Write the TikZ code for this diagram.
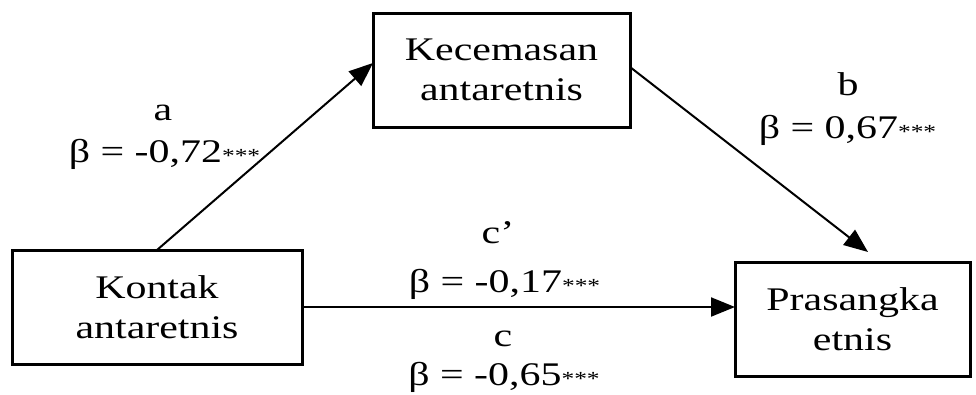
\documentclass[tikz,border=0pt]{standalone}
\usepackage{fontspec}
\setmainfont{Liberation Serif}[FakeStretch=1.27]
\usetikzlibrary{arrows.meta}
\newcommand\mystars{{\fontsize{20}{22}\selectfont***}}
\begin{document}
\begin{tikzpicture}[x=1pt,y=-1pt,
  box/.style={draw=black,line width=3pt,align=center,inner sep=0pt,outer sep=0pt,
    minimum height=114pt,font=\fontsize{33}{40}\selectfont},
  conn/.style={line width=2pt,-{Triangle[length=24pt,width=19pt]}},
  lbl/.style={anchor=base,inner sep=0pt,font=\fontsize{33}{40}\selectfont}]
\useasboundingbox (0,0) rectangle (976,394);
\node[box,minimum width=290pt] (lbox) at (157,307) {Kontak\\antaretnis};
\node[box,minimum width=257pt] (tbox) at (501.5,70) {Kecemasan\\antaretnis};
\node[box,minimum width=235pt] (rbox) at (852.5,319) {Prasangka\\etnis};
\draw[conn] ([xshift=145pt]lbox.north west) -- ([yshift=-50pt]tbox.north west);
\draw[conn] ([yshift=-54pt]tbox.north east) -- ([xshift=133pt,yshift=10pt]rbox.north west);
\draw[conn] (lbox.east) -- (lbox.east -| rbox.west);
\node[lbl] (la) at (163,120) {a};
\node[lbl] (lab) at (164.5,162) {β = -0,72\mystars};
\node[lbl] (lb) at (848,95) {b};
\node[lbl] (lbb) at (847.5,138) {β = 0,67\mystars};
\node[lbl] (lcp) at (498,243) {c’};
\node[lbl] (lcpb) at (504.5,292) {β = -0,17\mystars};
\node[lbl] (lc) at (503,346) {c};
\node[lbl] (lcb) at (504,385) {β = -0,65\mystars};
\end{tikzpicture}
\end{document}
